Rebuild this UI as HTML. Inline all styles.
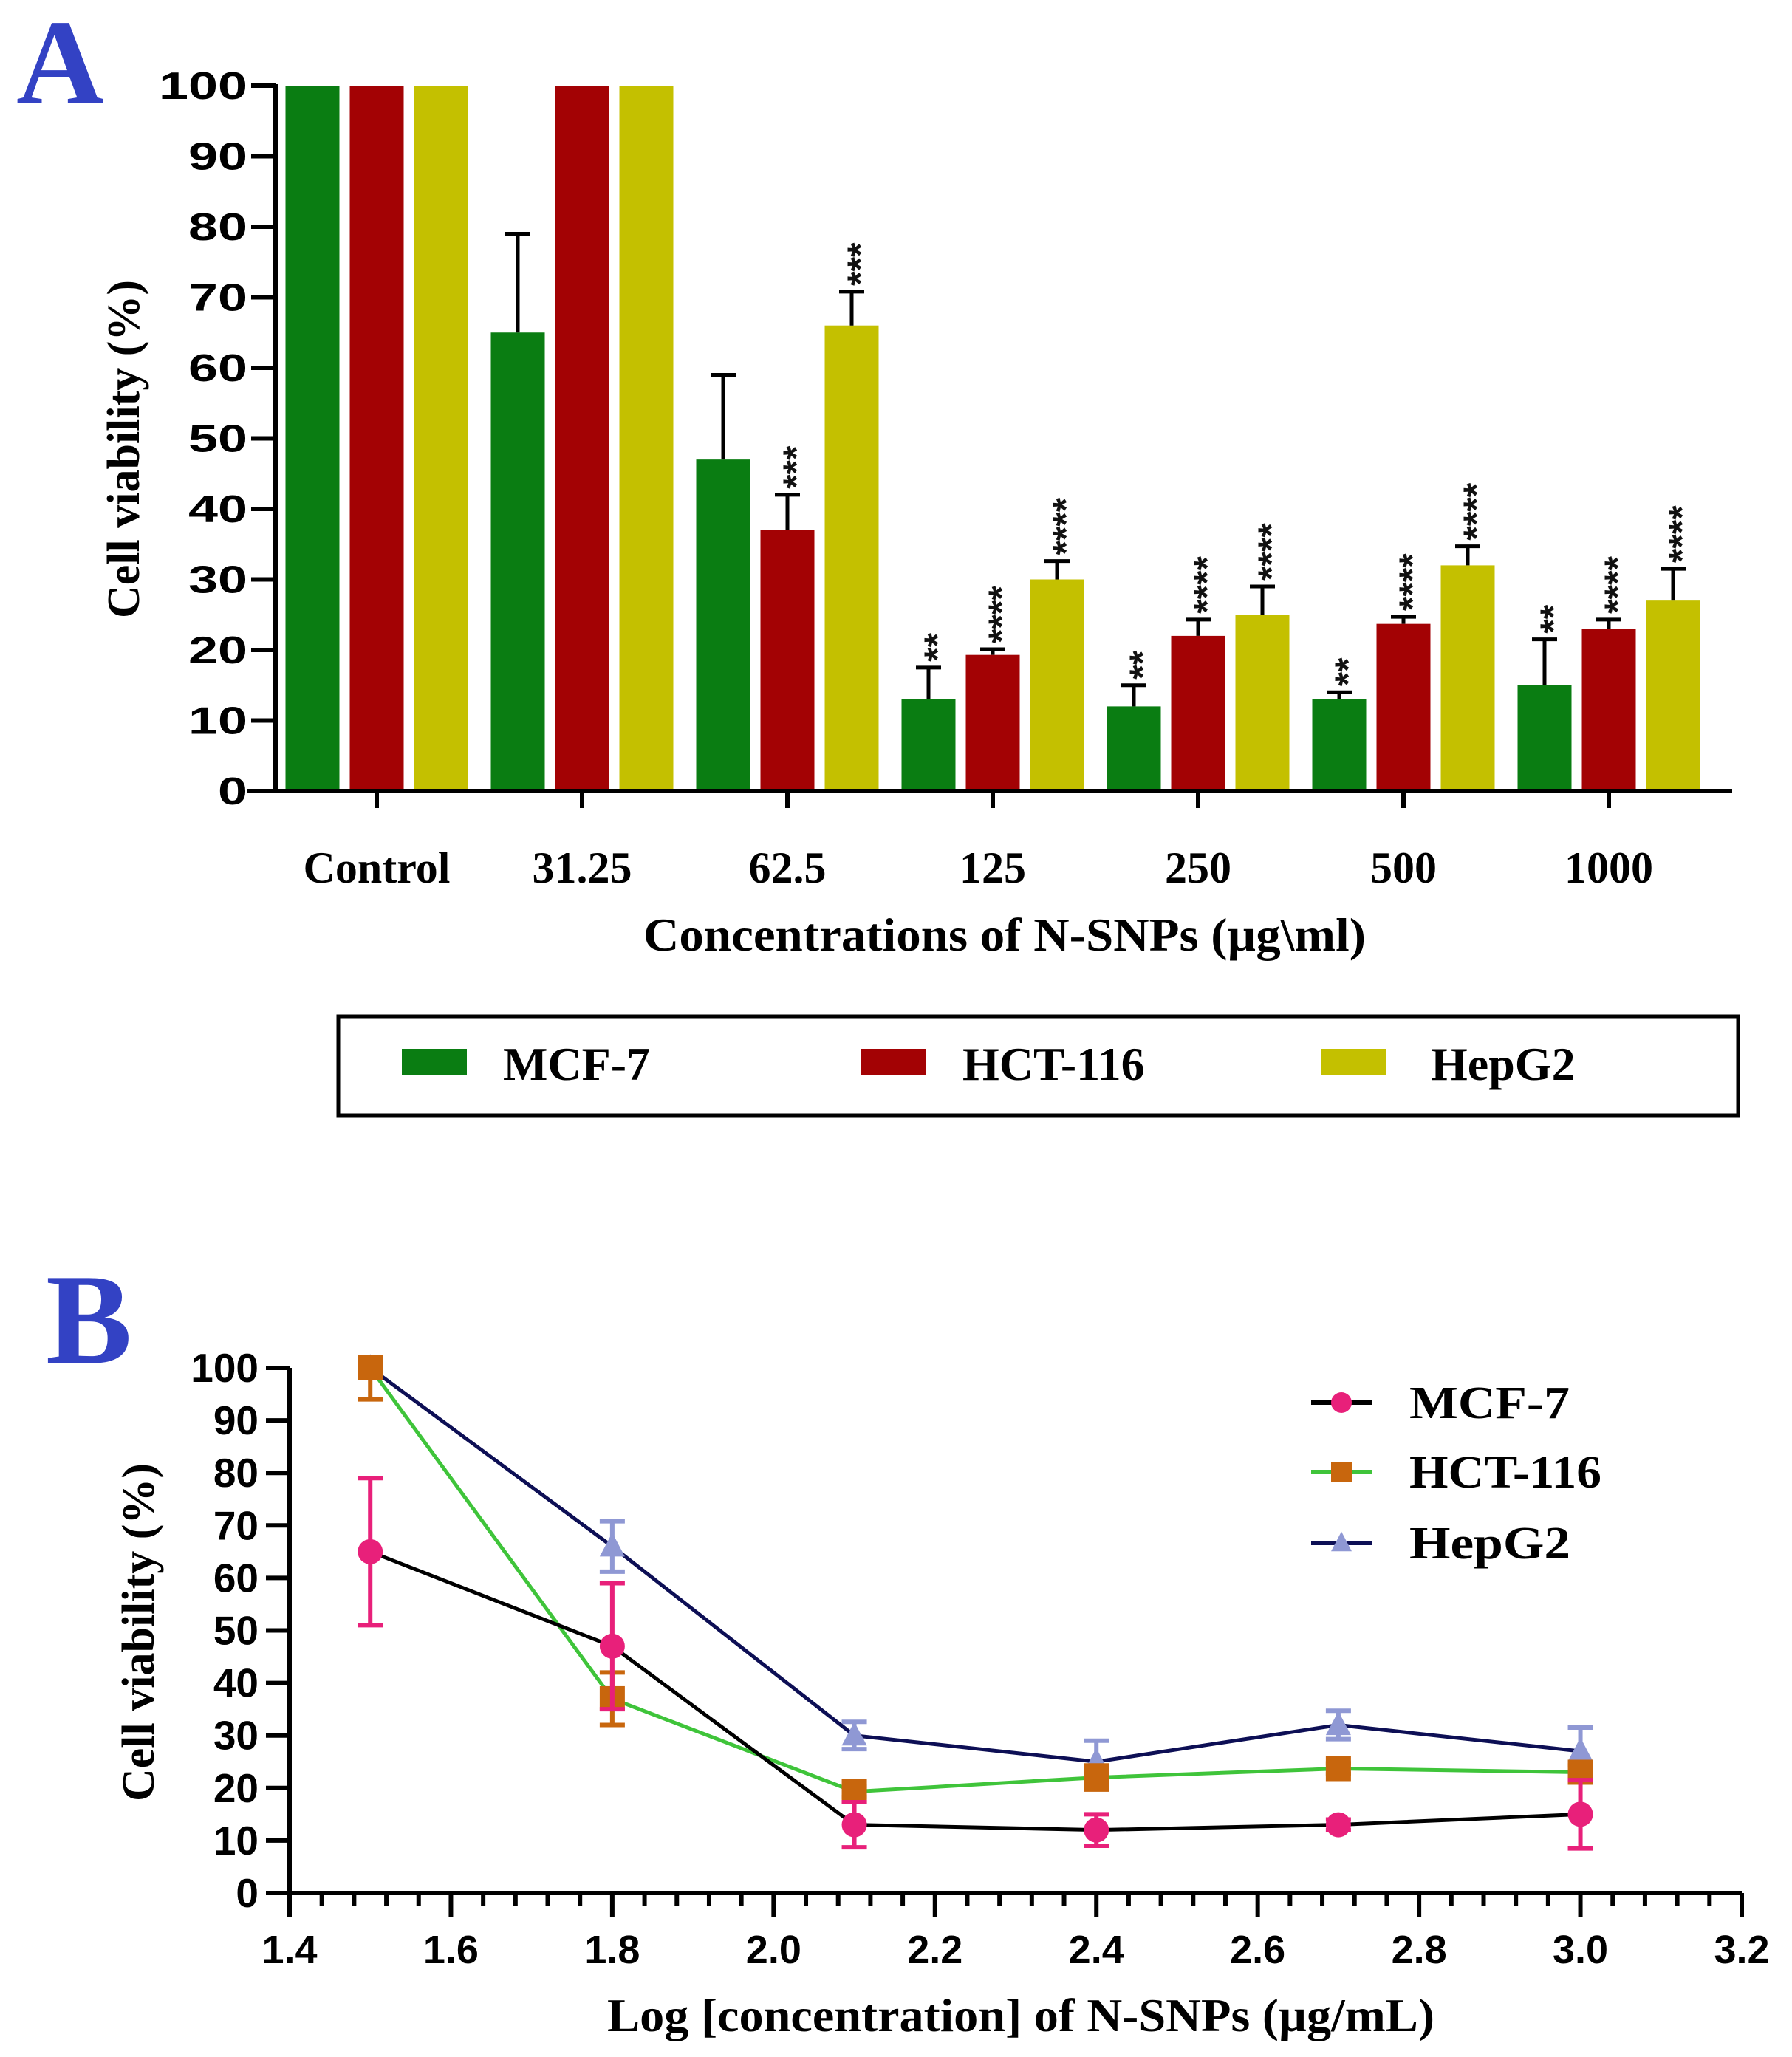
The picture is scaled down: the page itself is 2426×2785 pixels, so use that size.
<!DOCTYPE html>
<html><head><meta charset="utf-8"><style>
html,body{margin:0;padding:0;background:#fff;}
svg{display:block;}
.ser{font-family:"Liberation Serif",serif;font-weight:bold;}
.san{font-family:"Liberation Sans",sans-serif;font-weight:bold;}
</style></head><body>
<svg id="fig" width="2426" height="2785" viewBox="0 0 2426 2785" xmlns="http://www.w3.org/2000/svg">
<rect width="2426" height="2785" fill="#fff"/>
<text x="22" y="140" class="ser" font-size="165" fill="#3342c4">A</text>
<text x="62" y="1845" class="ser" font-size="175" fill="#3342c4">B</text>
<g id="chartA"></g>
<g id="chartB"></g>
</svg>
<script>
// ---- Chart A data ----
const catsA = ["Control","31.25","62.5","125","250","500","1000"];
const mcfA = [100,65,47,13,12,13,15];
const mcfErrA = [0,14,12,4.5,3,1,6.5];
const hctA = [100,100,37,19.3,22,23.7,23];
const hctErrA = [0,0,5,0.8,2.3,1,1.3];
const hepA = [100,100,66,30,25,32,27];
const hepErrA = [0,0,4.8,2.6,4,2.7,4.5];
const mcfStars = ["","","","**","**","**","**"];
const hctStars = ["","","***","****","****","****","****"];
const hepStars = ["","","***","****","****","****","****"];
const yTicksA = [0,10,20,30,40,50,60,70,80,90,100];
// ---- Chart B data ----
const xB = [1.5,1.8,2.1,2.4,2.7,3.0];
const mcfB = [65,47,13,12,13,15];
const mcfErrB = [14,12,4.3,3,1,6.5];
const hctB = [100,37,19.3,22,23.7,23];
const hctErrB = [6,5,1,2.3,1,1.3];
const hepB = [100,66,30,25,32,27];
const hepErrB = [0,4.8,2.6,4,2.7,4.5];
const xTicksB = [1.4,1.6,1.8,2.0,2.2,2.4,2.6,2.8,3.0,3.2];
const yTicksB = [0,10,20,30,40,50,60,70,80,90,100];

const NS="http://www.w3.org/2000/svg";
function mk(parent,tag,attrs,txt){const e=document.createElementNS(NS,tag);for(const k in attrs)e.setAttribute(k,attrs[k]);if(txt!==undefined)e.textContent=txt;parent.appendChild(e);return e;}

// ===== Chart A =====
const A=document.getElementById('chartA');
const ayA=v=>1071-(1071-116)*v/100;
const cxA=i=>510+278*i;
const barW=73, off=[-87,0,87];
const colsA=["#0a7d12","#a30204","#c4c000"];
const series=[[mcfA,mcfErrA,mcfStars,"mcf7"],[hctA,hctErrA,hctStars,"hct116"],[hepA,hepErrA,hepStars,"hepg2"]];
series.forEach((s,si)=>{
  s[0].forEach((v,i)=>{
    const x=cxA(i)+off[si];
    const r=mk(A,'rect',{x:x-barW/2,y:ayA(v),width:barW,height:ayA(0)-ayA(v),fill:colsA[si]});
    
    
    const e=s[1][i];
    if(e>0){
      const yt=ayA(v+e);
      const l=mk(A,'path',{d:`M${x} ${ayA(v)}V${yt}M${x-17} ${yt}H${x+17}`,stroke:"#000","stroke-width":5,fill:"none"});
      
      
    }
    if(s[2][i]){
      const yt=ayA(v+e)-8;
      const t=mk(A,'text',{x:0,y:0,transform:`translate(${x+29},${yt}) rotate(-90)`,class:"san","font-size":50,fill:"#111"},s[2][i]);
      
      
    }
  });
});
// axes A
const axA=mk(A,'path',{d:`M373 114V1071M335 1071H2345`,stroke:"#000","stroke-width":6,fill:"none"});


yTicksA.forEach(v=>{
  const t=mk(A,'path',{d:`M340 ${ayA(v)}H373`,stroke:"#000","stroke-width":6});
  
  
  const s=String(v);
  const l=mk(A,'text',{x:335,y:ayA(v)+18,"text-anchor":"end",class:"san","font-size":52,textLength:s.length*40,lengthAdjust:"spacingAndGlyphs"},s);
  
  
});
catsA.forEach((c,i)=>{
  const t=mk(A,'path',{d:`M${cxA(i)} 1071V1094`,stroke:"#000","stroke-width":6});
  
  
  const l=mk(A,'text',{x:cxA(i),y:1195,"text-anchor":"middle",class:"ser","font-size":60},c);
  
  
});
const ytA=mk(A,'text',{transform:"translate(188,608) rotate(-90)","text-anchor":"middle",class:"ser","font-size":62},"Cell viability (%)");


const xtA=mk(A,'text',{x:1360,y:1287,"text-anchor":"middle",class:"ser","font-size":64,textLength:978,lengthAdjust:"spacingAndGlyphs"},"Concentrations of N-SNPs (µg\\ml)");


// legend A
const lgA=mk(A,'g',{});


mk(lgA,'rect',{x:458,y:1376,width:1895,height:134,fill:"none",stroke:"#000","stroke-width":5});
const legA=[["MCF-7",544,681],["HCT-116",1165,1303],["HepG2",1789,1937]];
legA.forEach((L,i)=>{
  const g=mk(lgA,'g',{});
  
  
  mk(g,'rect',{x:L[1],y:1420,width:88,height:36,fill:colsA[i]});
  mk(g,'text',{x:L[2],y:1462,class:"ser","font-size":64},L[0]);
});

// ===== Chart B =====
const B=document.getElementById('chartB');
const bx=v=>392+(2358-392)*(v-1.4)/1.8;
const by=v=>2563-(2563-1852)*v/100;
const axB=mk(B,'path',{d:`M392 1852V2563H2358`,stroke:"#000","stroke-width":6,fill:"none"});


yTicksB.forEach(v=>{
  const t=mk(B,'path',{d:`M360 ${by(v)}H392`,stroke:"#000","stroke-width":6});
  
  
  const l=mk(B,'text',{x:350,y:by(v)+19,"text-anchor":"end",class:"san","font-size":55},String(v));
  
  
});
xTicksB.forEach((v,i)=>{
  const t=mk(B,'path',{d:`M${bx(v)} 2563V2595`,stroke:"#000","stroke-width":6});
  
  
  const l=mk(B,'text',{x:bx(v),y:2658,"text-anchor":"middle",class:"san","font-size":54},v.toFixed(1));
  
  
  if(i<xTicksB.length-1){
    for(let k=1;k<5;k++){
      const m=mk(B,'path',{d:`M${bx(v+0.04*k)} 2563V2580`,stroke:"#000","stroke-width":6});
      
      
    }
  }
});
const ytB=mk(B,'text',{transform:"translate(208,2210) rotate(-90)","text-anchor":"middle",class:"ser","font-size":62},"Cell viability (%)");


const xtB=mk(B,'text',{x:1382,y:2750,"text-anchor":"middle",class:"ser","font-size":64,textLength:1120,lengthAdjust:"spacingAndGlyphs"},"Log [concentration] of N-SNPs (µg/mL)");



const serB=[
 {n:"hepg2",d:hepB,e:hepErrB,line:"#0d0f55",mk:"#8f98d4",shape:"tri"},
 {n:"hct116",d:hctB,e:hctErrB,line:"#3fc43a",mk:"#c8660d",shape:"sq"},
 {n:"mcf7",d:mcfB,e:mcfErrB,line:"#000",mk:"#e8207a",shape:"circ"}
];
function marker(g,shape,x,y,c,s){
  if(shape==="circ") return mk(g,'circle',{cx:x,cy:y,r:s,fill:c});
  if(shape==="sq") return mk(g,'rect',{x:x-s,y:y-s,width:2*s,height:2*s,fill:c});
  return mk(g,'path',{d:`M${x} ${y-s*1.1}L${x+s} ${y+s*0.8}L${x-s} ${y+s*0.8}Z`,fill:c});
}
serB.forEach(s=>{
  const g=mk(B,'g',{});
  
  
  s.d.forEach((v,i)=>{
    if(s.e[i]>0){
      const x=bx(xB[i]);
      const hi=Math.min(100,v+s.e[i]);
      const eb=mk(g,'path',{d:`M${x} ${by(hi)}V${by(v-s.e[i])}M${x-17} ${by(hi)}H${x+17}M${x-17} ${by(v-s.e[i])}H${x+17}`,stroke:s.mk,"stroke-width":6,fill:"none"});
      
      
    }
  });
  const pl=mk(g,'polyline',{points:s.d.map((v,i)=>bx(xB[i])+","+by(v)).join(" "),fill:"none",stroke:s.line,"stroke-width":5});
  
  
  s.d.forEach((v,i)=>{
    const m=marker(g,s.shape,bx(xB[i]),by(v),s.mk,17);
    
    
  });
});
// legend B
const lgB=mk(B,'g',{});


const legB=[["MCF-7","#000","#e8207a","circ",1899,217],["HCT-116","#3fc43a","#c8660d","sq",1993,260],["HepG2","#0d0f55","#8f98d4","tri",2089,218]];
legB.forEach(L=>{
  const g=mk(lgB,'g',{});
  
  
  mk(g,'path',{d:`M1775 ${L[4]}H1857`,stroke:L[1],"stroke-width":6});
  marker(g,L[3],1816,L[4],L[2],14);
  mk(g,'text',{x:1908,y:L[4]+21,class:"ser","font-size":62,textLength:L[5],lengthAdjust:"spacingAndGlyphs"},L[0]);
});
</script>
</body></html>
